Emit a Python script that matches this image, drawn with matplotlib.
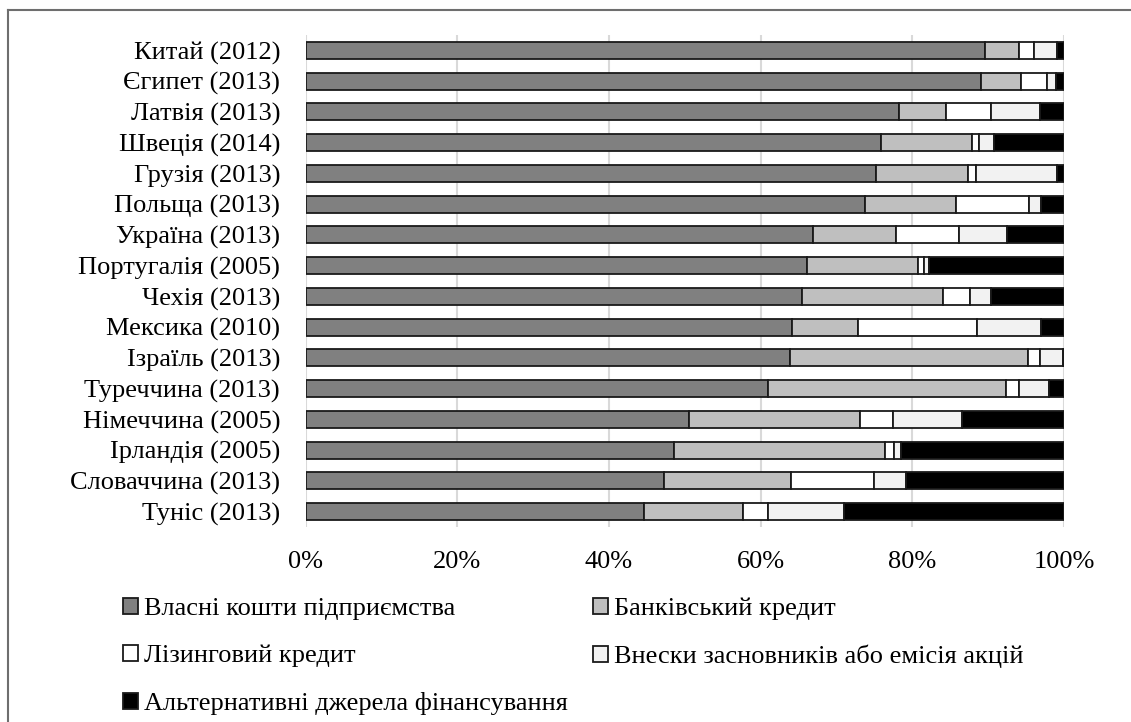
import matplotlib
matplotlib.use("Agg")
import matplotlib.pyplot as plt
from matplotlib.lines import Line2D
from matplotlib.ticker import FuncFormatter

plt.rcParams["font.family"] = ["Liberation Serif", "DejaVu Serif"]

# === Data (shares, %) ===
countries = [
    "Китай (2012)", "Єгипет (2013)", "Латвія (2013)", "Швеція (2014)",
    "Грузія (2013)", "Польща (2013)", "Україна (2013)", "Португалія (2005)",
    "Чехія (2013)", "Мексика (2010)", "Ізраїль (2013)", "Туреччина (2013)",
    "Німеччина (2005)", "Ірландія (2005)", "Словаччина (2013)", "Туніс (2013)",
]
own_funds = [89.6, 89.1, 78.2, 75.8, 75.2, 73.8, 66.9, 66.1, 65.5, 64.1, 63.8, 60.9, 50.6, 48.5, 47.2, 44.6]
bank_credit = [4.4, 5.2, 6.2, 12.1, 12.1, 12.0, 10.9, 14.6, 18.5, 8.7, 31.5, 31.4, 22.5, 27.9, 16.8, 13.0]
leasing = [2.0, 3.5, 6.0, 0.9, 1.1, 9.6, 8.3, 0.8, 3.6, 15.7, 1.5, 1.7, 4.3, 1.2, 10.9, 3.4]
founders = [3.1, 1.1, 6.4, 1.9, 10.7, 1.6, 6.4, 0.7, 2.8, 8.4, 3.1, 4.0, 9.2, 0.9, 4.2, 10.0]
alternative = [0.9, 1.1, 3.2, 9.3, 0.9, 3.0, 7.5, 17.8, 9.6, 3.1, 0.1, 2.0, 13.4, 21.5, 20.9, 29.0]

series_names = [
    "Власні кошти підприємства",
    "Банківський кредит",
    "Лізинговий кредит",
    "Внески засновників або емісія акцій",
    "Альтернативні джерела фінансування",
]
series_values = [own_funds, bank_credit, leasing, founders, alternative]
series_colors = ["#808080", "#bfbfbf", "#ffffff", "#f2f2f2", "#000000"]
x_ticks = [0, 20, 40, 60, 80, 100]

# === Plot ===
fig = plt.figure(figsize=(11.31, 7.22), dpi=100)
ax = fig.add_axes([0.2703, 0.2701, 0.6705, 0.6814])

y = list(range(len(countries)))
left = [0.0] * len(countries)
handles = []
for name, vals, col in zip(series_names, series_values, series_colors):
    b = ax.barh(y, vals, left=left, height=0.55, color=col,
                edgecolor="#1a1a1a", linewidth=1.3, label=name, zorder=3)
    handles.append(b)
    left = [l + v for l, v in zip(left, vals)]

ax.set_xlim(0, 100)
ax.set_ylim(len(countries) - 0.5, -0.5)
ax.set_yticks(y)
ax.set_yticklabels(countries)
ax.set_xticks(x_ticks)
ax.xaxis.set_major_formatter(FuncFormatter(lambda v, p: f"{v:.0f}%"))
ax.tick_params(axis="both", length=0, labelsize=19, colors="#000000")
ax.tick_params(axis="y", pad=18.5)
ax.tick_params(axis="x", pad=17)
ax.grid(axis="x", color="#d9d9d9", linewidth=1.5, zorder=0)
ax.set_axisbelow(True)
for s in ax.spines.values():
    s.set_visible(False)

# legend, row-major order like the source
order = [0, 2, 4, 1, 3]
fig.legend([handles[i] for i in order], [series_names[i] for i in order],
           ncol=2, loc="upper left", bbox_to_anchor=(0.109, 0.172),
           frameon=False, fontsize=19, handlelength=0.55, handleheight=0.55,
           handletextpad=0.25, columnspacing=0.94, labelspacing=0.93,
           borderaxespad=0, borderpad=0)

# outer frame (top and left edges visible)
fx = 7.5 / 1131
fy = 1 - 9.5 / 722
fig.add_artist(Line2D([fx, 1], [fy, fy], color="#6e6e6e", linewidth=1.5, transform=fig.transFigure))
fig.add_artist(Line2D([fx, fx], [0, fy], color="#6e6e6e", linewidth=1.5, transform=fig.transFigure))

fig.savefig("out.png", dpi=100)
